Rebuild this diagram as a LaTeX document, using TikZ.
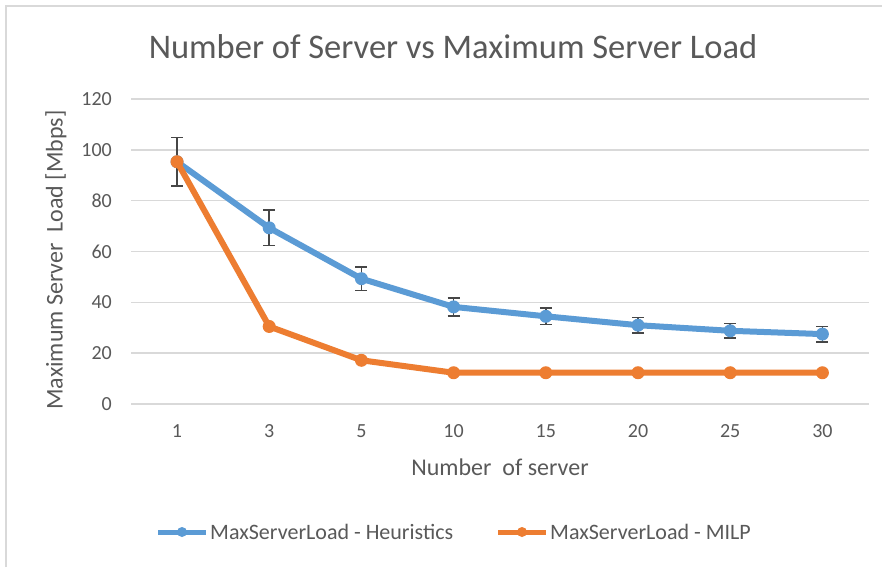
\documentclass[tikz,border=0pt]{standalone}
\usepackage{fontspec}
\setmainfont{Carlito}
\usetikzlibrary{positioning, calc}
\definecolor{heurblue}{RGB}{91,155,213}
\definecolor{milporange}{RGB}{237,125,49}
\definecolor{gridgray}{RGB}{217,217,217}
\definecolor{txtgray}{RGB}{89,89,89}
\definecolor{errgray}{RGB}{70,70,70}

\begin{document}
\begin{tikzpicture}[
    x=1pt, y=-1pt,
    gridline/.style={draw=gridgray, line width=1.4pt},
    series/.style={line width=6pt, line join=round, line cap=round},
    dot/.style={circle, inner sep=0pt, minimum size=13pt},
    legdot/.style={circle, inner sep=0pt, minimum size=10pt},
    errbar/.style={draw=errgray, line width=1.6pt},
    ticklabel/.style={text=txtgray, inner sep=0pt, font=\fontsize{20}{22}\selectfont},
    axistitle/.style={text=txtgray, inner sep=0pt, font=\fontsize{24}{26}\selectfont},
    legtext/.style={text=txtgray, inner sep=0pt, anchor=west, font=\fontsize{22}{24}\selectfont}
]

    % Canvas
    \useasboundingbox (0,0) rectangle (882,567);
    \fill[white] (0,0) rectangle (882,567);
    \draw[gridgray, line width=1.5pt] (6,567) -- (6,6) -- (882,6);

    % Title
    \node[text=txtgray, font=\fontsize{34.5}{36}\selectfont] (title) at (453,47) {Number of Server vs Maximum Server Load};

    % Grid and y ticks
    \foreach \v in {0,20,...,120} {
        \draw[gridline] (131,{404-2.542*\v}) -- (869,{404-2.542*\v});
        \node[ticklabel, anchor=east] (ytick\v) at (112,{404-2.542*\v}) {\v};
    }

    % x ticks
    \foreach \c [count=\i from 0] in {1,3,5,10,15,20,25,30}
        \node[ticklabel] (xtick\i) at ({177+92.2*\i},431) {\c};

    % Axis titles
    \node[axistitle] (xtitle) at (500,467) {Number~ of server};
    \node[axistitle, rotate=90] (ytitle) at (56,260) {Maximum Server~ Load [Mbps]};

    % Data points
    \foreach \h/\e/\m [count=\i from 0] in {95.3/9.5/95.3, 69.3/7/30.5, 49.3/4.7/17.2, 38.2/3.6/12.3, 34.5/3.2/12.3, 31.0/3.0/12.3, 28.8/2.9/12.3, 27.5/3.0/12.3} {
        \coordinate (h\i) at ({177+92.2*\i},{404-2.542*\h});
        \coordinate (m\i) at ({177+92.2*\i},{404-2.542*\m});
        \coordinate (etop\i) at ({177+92.2*\i},{404-2.542*(\h+\e)});
        \coordinate (ebot\i) at ({177+92.2*\i},{404-2.542*(\h-\e)});
    }

    % Error bars
    \foreach \i in {0,...,7} {
        \draw[errbar] (etop\i) -- (ebot\i);
        \draw[errbar] ($(etop\i)+(-6,0)$) -- ($(etop\i)+(6,0)$);
        \draw[errbar] ($(ebot\i)+(-6,0)$) -- ($(ebot\i)+(6,0)$);
    }

    % Heuristics
    \draw[series, heurblue] (h0) -- (h1) -- (h2) -- (h3) -- (h4) -- (h5) -- (h6) -- (h7);
    \foreach \i in {0,...,7}
        \node[dot, fill=heurblue] (hdot\i) at (h\i) {};

    % MILP
    \draw[series, milporange] (m0) -- (m1) -- (m2) -- (m3) -- (m4) -- (m5) -- (m6) -- (m7);
    \foreach \i in {0,...,7}
        \node[dot, fill=milporange] (mdot\i) at (m\i) {};

    % Legend
    \coordinate (lgh1) at (158,532);
    \coordinate (lgh2) at (206,532);
    \draw[heurblue, line width=5pt] (lgh1) -- (lgh2);
    \node[legdot, fill=heurblue] (lghdot) at ($(lgh1)!0.5!(lgh2)$) {};
    \node[legtext, right=4pt of lgh2] (lghtext) {MaxServerLoad - Heuristics};

    \coordinate (lgm1) at (498,532);
    \coordinate (lgm2) at (546,532);
    \draw[milporange, line width=5pt] (lgm1) -- (lgm2);
    \node[legdot, fill=milporange] (lgmdot) at ($(lgm1)!0.5!(lgm2)$) {};
    \node[legtext, right=4pt of lgm2] (lgmtext) {MaxServerLoad - MILP};

\end{tikzpicture}
\end{document}
